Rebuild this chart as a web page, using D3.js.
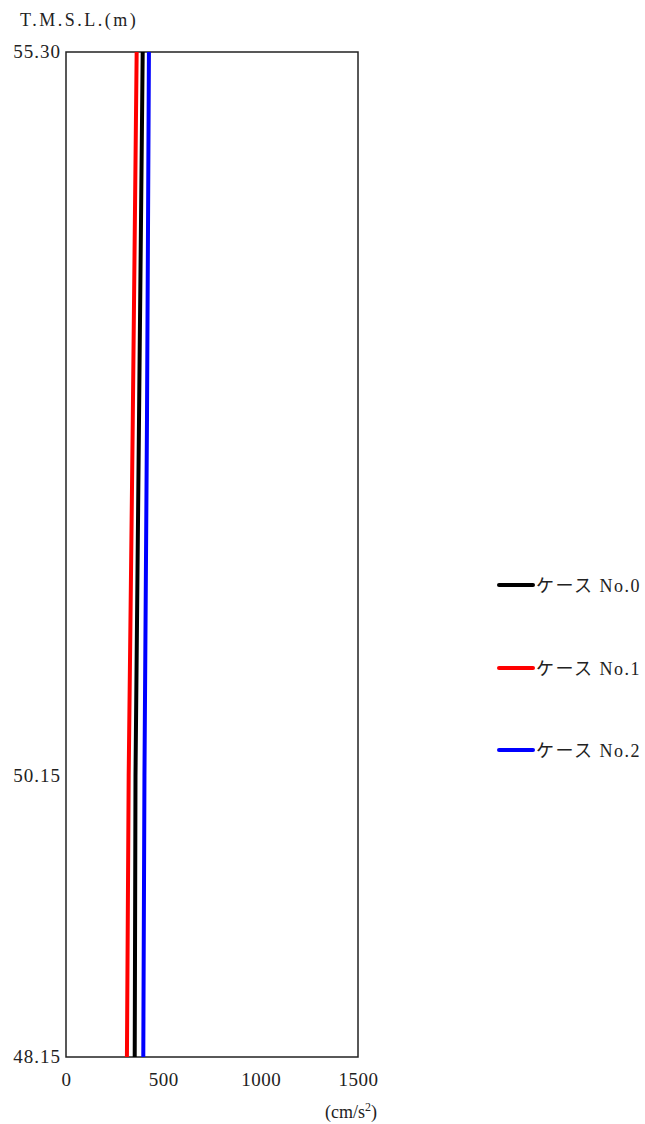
<!DOCTYPE html>
<html><head><meta charset="utf-8">
<script src="https://cdn.jsdelivr.net/npm/d3@7"></script>
<style>
body{margin:0;background:#fff;}
svg text{font-family:"Liberation Serif","Noto Sans CJK JP",serif !important;fill:#222;}
</style></head>
<body><svg id="c" width="645" height="1124"></svg>
<script>
const elevations = [55.30, 52.68, 50.15, 48.15];
const case0 = [394, 375, 357, 353];
const case1 = [363, 343, 322, 313];
const case2 = [426, 416, 403, 397];
const seriesNames = ["ケース No.0", "ケース No.1", "ケース No.2"];
const seriesColors = ["#000000", "#ff0000", "#0000ff"];
const yTicks = [55.30, 50.15, 48.15];
const xTicks = [0, 500, 1000, 1500];

const svg = d3.select("#c");
const L = 66, T = 52, R = 358, B = 1057;
const x = d3.scaleLinear().domain([0, 1500]).range([L, R]);
const y = d3.scaleLinear().domain([48.15, 55.30]).range([B, T]);

const xa = svg.append("g").attr("transform", `translate(0,${B})`)
  .call(d3.axisBottom(x).tickValues(xTicks).tickSize(0).tickPadding(16).tickFormat(d3.format("d")));
xa.select(".domain").remove();
xa.selectAll("text").attr("font-size", 19).attr("fill", "#222").attr("letter-spacing", "0.5px");

const ya = svg.append("g").attr("transform", `translate(${L},0)`)
  .call(d3.axisLeft(y).tickValues(yTicks).tickSize(0).tickPadding(5).tickFormat(d3.format(".2f")));
ya.select(".domain").remove();
ya.selectAll("text").attr("font-size", 19).attr("fill", "#222").attr("letter-spacing", "1px").attr("dy", "0.3em");

svg.append("rect").attr("x", L).attr("y", T).attr("width", R - L).attr("height", B - T)
  .attr("fill", "none").attr("stroke", "#222").attr("stroke-width", 1.5);

const allSeries = [case0, case1, case2];
const line = d3.line().x(d => x(d[0])).y(d => y(d[1]));
allSeries.forEach((vals, i) => {
  svg.append("path").datum(vals.map((v, j) => [v, elevations[j]]))
    .attr("d", line).attr("fill", "none").attr("stroke", seriesColors[i]).attr("stroke-width", 4);
});

svg.append("text").attr("x", 20).attr("y", 26).attr("font-size", 18).attr("letter-spacing", "2.5px").text("T.M.S.L.(m)");
const u = svg.append("text").attr("x", 325).attr("y", 1118).attr("font-size", 18);
u.append("tspan").text("(cm/s");
u.append("tspan").attr("dy", -7).attr("font-size", 12).text("2");
u.append("tspan").attr("dy", 7).text(")");

const legY = [585, 668, 750];
seriesNames.forEach((n, i) => {
  svg.append("line").attr("x1", 499).attr("x2", 533).attr("y1", legY[i]).attr("y2", legY[i])
    .attr("stroke", seriesColors[i]).attr("stroke-width", 4).attr("stroke-linecap", "round");
  svg.append("text").attr("x", 536).attr("y", legY[i] + 7).attr("font-size", 18).attr("letter-spacing", "1.5px").text(n);
});
</script></body></html>
